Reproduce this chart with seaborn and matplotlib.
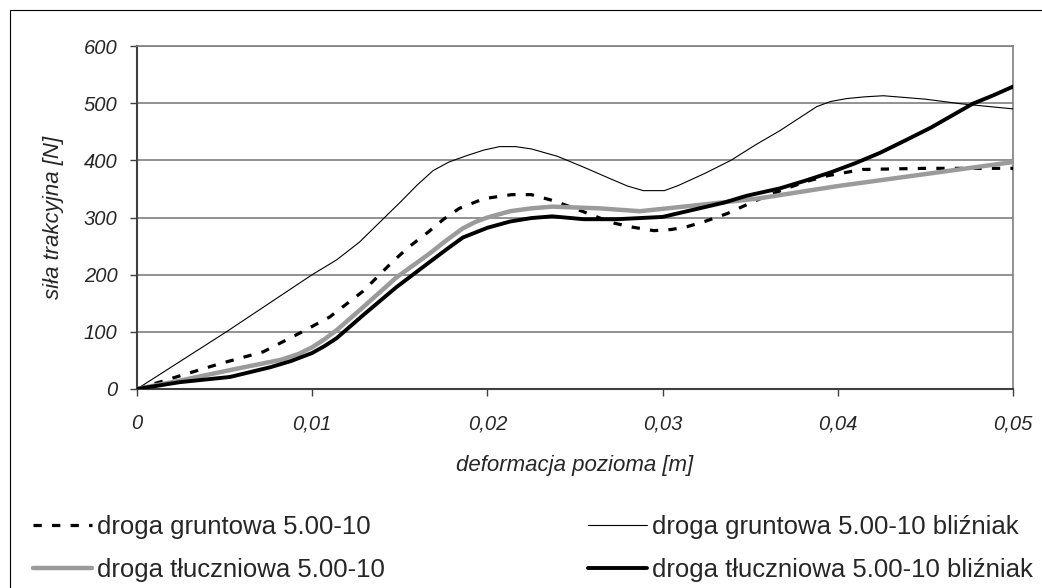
import matplotlib
matplotlib.use("Agg")
import matplotlib.pyplot as plt
import seaborn as sns
from matplotlib.patches import Rectangle

# Values (x in m, y in N).
grunt_x = [0, 0.00245, 0.0047, 0.0072, 0.0093, 0.011, 0.0129, 0.0146, 0.0155, 0.0166, 0.0175,
           0.0184, 0.0198, 0.0214, 0.0225, 0.0237, 0.0248, 0.026, 0.0271, 0.0283, 0.0295,
           0.0305, 0.0314, 0.0324, 0.0337, 0.0347, 0.0358, 0.037, 0.0382, 0.0394, 0.0414,
           0.045, 0.05]
grunt_y = [0, 23, 44, 65, 98, 126, 171, 223, 248, 274, 297,
           316, 333, 340, 340, 330, 318, 304, 291, 283, 277,
           279, 284, 293, 307, 321, 336, 350, 363, 373, 384,
           386, 386]

grunt_bl_x = [0, 0.0051, 0.01, 0.0114, 0.0127, 0.0138, 0.015, 0.016, 0.0169, 0.0178, 0.0188,
              0.0198, 0.0207, 0.0216, 0.0225, 0.024, 0.0255, 0.027, 0.028, 0.0289, 0.0301,
              0.0309, 0.0324, 0.0339, 0.0353, 0.0367, 0.0378, 0.0388, 0.0396, 0.0405, 0.0415,
              0.0426, 0.045, 0.047, 0.05]
grunt_bl_y = [0, 100, 200, 226, 257, 290, 326, 357, 382, 397, 408,
              418, 424, 424, 420, 407, 388, 368, 355, 347, 347,
              356, 377, 400, 427, 452, 474, 494, 503, 508, 511,
              513, 507, 499, 490]

tlucz_x = [0, 0.0025, 0.0053, 0.0082, 0.0092, 0.01, 0.0107, 0.0114, 0.0129, 0.0148, 0.0167,
           0.0177, 0.0186, 0.0193, 0.02, 0.0213, 0.0225, 0.0237, 0.0264, 0.0287, 0.0312,
           0.0354, 0.04, 0.045, 0.05]
tlucz_y = [0, 15, 33, 51, 61, 73, 87, 103, 143, 195, 237,
           261, 281, 292, 300, 311, 316, 319, 316, 311, 319,
           333, 355, 376, 397]

tlucz_bl_x = [0, 0.00245, 0.0053, 0.0076, 0.0088, 0.01, 0.0107, 0.0114, 0.0129, 0.0148, 0.0167,
              0.0177, 0.0186, 0.02, 0.0213, 0.0225, 0.0237, 0.0255, 0.0274, 0.03, 0.0321,
              0.0335, 0.0348, 0.0367, 0.0381, 0.0396, 0.041, 0.0424, 0.0438, 0.0453, 0.0465,
              0.0477, 0.0489, 0.05]
tlucz_bl_y = [0, 12, 21, 38, 49, 63, 75, 89, 129, 178, 222,
              245, 265, 282, 293, 299, 302, 297, 297, 301, 316,
              326, 338, 351, 364, 379, 395, 413, 434, 457, 478,
              499, 514, 529]

x_ticks = [0, 0.01, 0.02, 0.03, 0.04, 0.05]
x_tick_labels = ["0", "0,01", "0,02", "0,03", "0,04", "0,05"]
y_ticks = [0, 100, 200, 300, 400, 500, 600]

labels = ["droga gruntowa 5.00-10", "droga gruntowa 5.00-10 bliźniak",
          "droga tłuczniowa 5.00-10", "droga tłuczniowa 5.00-10 bliźniak"]

sns.set_style("white")
plt.rcParams["font.family"] = ["Liberation Sans", "DejaVu Sans"]

fig = plt.figure(figsize=(10.42, 5.88), dpi=100)
ax = fig.add_axes([137 / 1042, 1 - 389 / 588, (1013 - 137) / 1042, (389 - 46) / 588])

# Horizontal grid lines.
for v in y_ticks[1:]:
    ax.axhline(v, color="#7f7f7f", lw=1.2, zorder=1)

l_grunt = sns.lineplot(x=grunt_x, y=grunt_y, ax=ax, color="black", lw=2.3,
                       linestyle=(0, (2.6, 3.2)), sort=False, zorder=3).lines[-1]
l_grunt_bl = sns.lineplot(x=grunt_bl_x, y=grunt_bl_y, ax=ax, color="black", lw=0.8,
                          sort=False, zorder=3).lines[-1]
l_tlucz = sns.lineplot(x=tlucz_x, y=tlucz_y, ax=ax, color="#9b9b9b", lw=3.2,
                       sort=False, zorder=3).lines[-1]
l_tlucz_bl = sns.lineplot(x=tlucz_bl_x, y=tlucz_bl_y, ax=ax, color="black", lw=2.8,
                          sort=False, zorder=4).lines[-1]

ax.set_xlim(0, 0.05)
ax.set_ylim(0, 600)
ax.set_xticks(x_ticks)
ax.set_xticklabels(x_tick_labels)
ax.set_yticks(y_ticks)
ax.tick_params(axis="x", direction="out", length=5, width=1, color="#404040", pad=13,
               labelsize=14.5, bottom=True)
ax.tick_params(axis="y", direction="out", length=5, width=1, color="#404040", pad=9,
               labelsize=14.5, left=True)
for lab in ax.get_xticklabels() + ax.get_yticklabels():
    lab.set_fontstyle("italic")

ax.spines["left"].set_color("#404040")
ax.spines["bottom"].set_color("#404040")
ax.spines["left"].set_linewidth(1.5)
ax.spines["bottom"].set_linewidth(1.5)
ax.spines["top"].set_color("#7f7f7f")
ax.spines["right"].set_color("#7f7f7f")
ax.spines["top"].set_linewidth(1.2)
ax.spines["right"].set_linewidth(1.2)

ax.set_xlabel("deformacja pozioma [m]", fontsize=16, fontstyle="italic", labelpad=16)
ax.set_ylabel("siła trakcyjna [N]", fontsize=16, fontstyle="italic", labelpad=14)

# Legend in two columns below the chart.
leg_kw = dict(frameon=False, fontsize=18.5, handlelength=2.3, handletextpad=0.2,
              labelspacing=0.72, borderaxespad=0, borderpad=0, loc="upper left")
fig.legend([l_grunt, l_tlucz], [labels[0], labels[2]],
           bbox_to_anchor=(33 / 1042, 1 - 515 / 588), **leg_kw)
fig.legend([l_grunt_bl, l_tlucz_bl], [labels[1], labels[3]],
           bbox_to_anchor=(588 / 1042, 1 - 515 / 588), **leg_kw)

# Outer frame of the chart object.
fig.add_artist(Rectangle((9.5 / 1042, -0.1), 2, 1 - 10 / 588 + 0.1, transform=fig.transFigure,
                         fill=False, ec="black", lw=0.8))

fig.savefig("out.png", dpi=100)
